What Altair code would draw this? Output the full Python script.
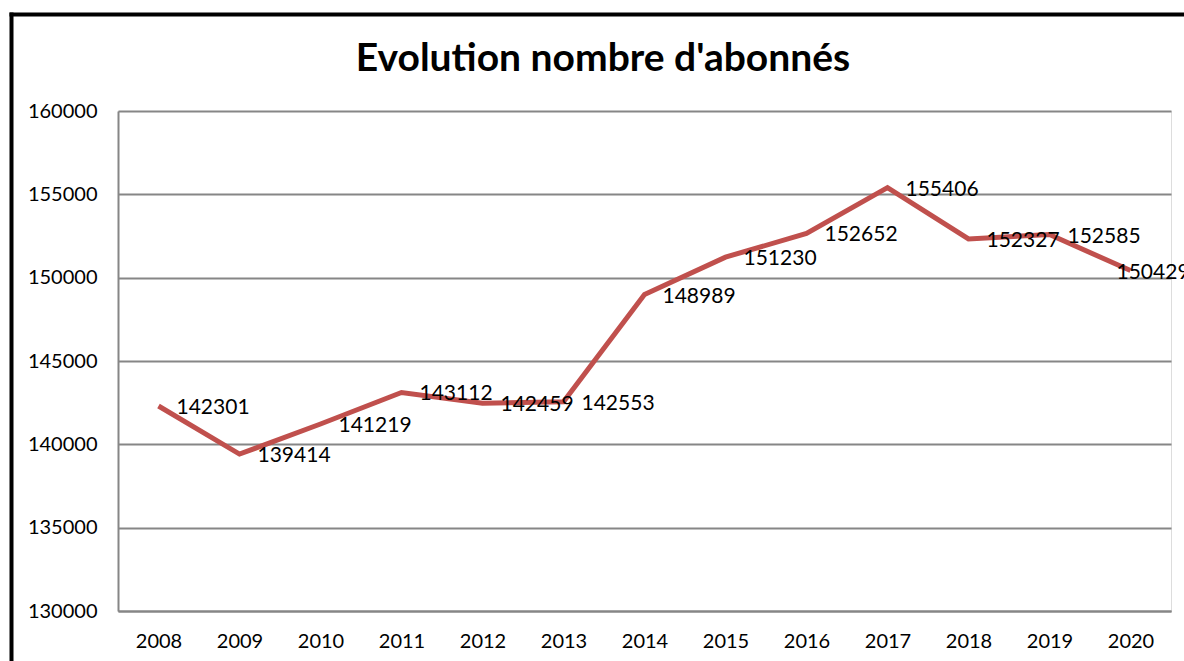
import altair as alt
import pandas as pd

years = ["2008", "2009", "2010", "2011", "2012", "2013", "2014",
         "2015", "2016", "2017", "2018", "2019", "2020"]
subscribers = [142301, 139414, 141219, 143112, 142459, 142553, 148989,
               151230, 152652, 155406, 152327, 152585, 150429]
y_ticks = [130000, 135000, 140000, 145000, 150000, 155000, 160000]
title_text = "Evolution nombre d'abonnés"

df = pd.DataFrame({"year": years, "value": subscribers})
df_main = df.iloc[:-1]
df_last = df.iloc[-1:]

FONT = "Lato"
RED = "#C0504D"
GRID = "#868686"

x_enc = alt.X("year:O", sort=years,
              scale=alt.Scale(type="point", padding=0.5),
              axis=alt.Axis(title=None, labelAngle=0, labelFont=FONT,
                            labelFontSize=20, labelColor="#000000",
                            labelPadding=20, ticks=False, domain=True,
                            domainColor=GRID, domainWidth=2, grid=False))
y_enc = alt.Y("value:Q",
              scale=alt.Scale(domain=[130000, 160000], nice=False, zero=False),
              axis=alt.Axis(title=None, values=y_ticks, format="d",
                            labelFont=FONT, labelFontSize=20,
                            labelColor="#000000", labelPadding=21,
                            ticks=False, domain=True, domainColor=GRID,
                            domainWidth=2, grid=True, gridColor=GRID,
                            gridWidth=2))

line = alt.Chart(df).mark_line(color=RED, strokeWidth=5, strokeJoin="miter").encode(
    x=x_enc, y=y_enc)

labels = alt.Chart(df_main).mark_text(align="left", baseline="middle", dx=18, dy=2,
                                      font=FONT, fontSize=21, color="#000000").encode(
    x=alt.X("year:O", sort=years), y="value:Q", text=alt.Text("value:Q", format="d"))

label_last = alt.Chart(df_last).mark_text(align="left", baseline="middle", dx=-14, dy=2,
                                          font=FONT, fontSize=21, color="#000000").encode(
    x=alt.X("year:O", sort=years), y="value:Q", text=alt.Text("value:Q", format="d"))

title = alt.Chart(pd.DataFrame({"t": [title_text]})).mark_text(
    font=FONT, fontSize=39, fontWeight="bold", color="#000000",
    align="center", baseline="middle").encode(
    text="t:N", x=alt.value(485), y=alt.value(-52))

frame_df = pd.DataFrame({"k": [0]})
top_border = alt.Chart(frame_df).mark_rule(color="#000000", strokeWidth=4).encode(
    x=alt.value(-108.5), x2=alt.value(1080), y=alt.value(-96.5))
left_border = alt.Chart(frame_df).mark_rule(color="#000000", strokeWidth=4).encode(
    x=alt.value(-106.5), y=alt.value(-98.5), y2=alt.value(560))

chart = alt.layer(line, labels, label_last, title, top_border, left_border).properties(
    width=1053, height=500,
    padding={"left": 118, "top": 111, "right": 13, "bottom": 50},
    autosize="none",
).configure_view(stroke=None).configure(background="#ffffff")

chart.save("out.html", embed_options={"renderer": "svg", "actions": False})
